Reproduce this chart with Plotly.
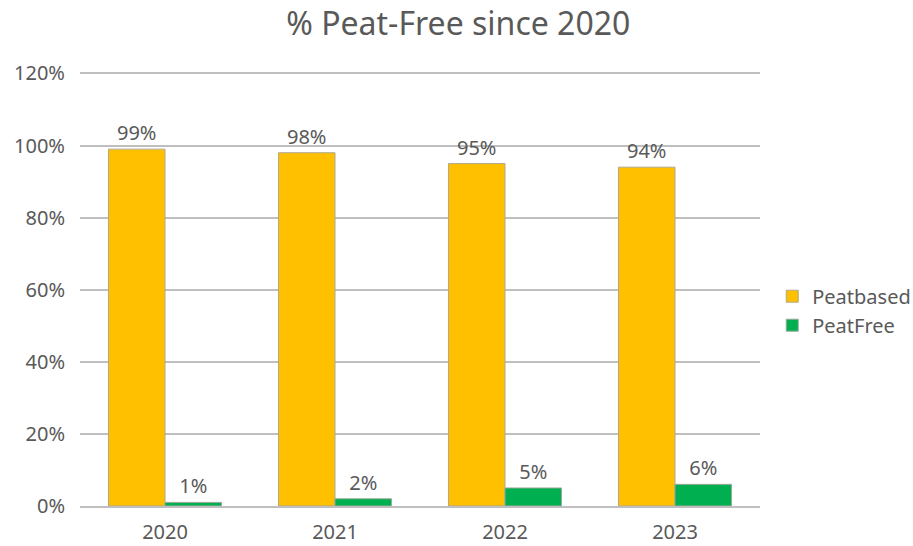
import plotly.graph_objects as go

years = ["2020", "2021", "2022", "2023"]
peatbased = [99, 98, 95, 94]
peatfree = [1, 2, 5, 6]
labels_pb = ["99%", "98%", "95%", "94%"]
labels_pf = ["1%", "2%", "5%", "6%"]
y_ticks = [0, 20, 40, 60, 80, 100, 120]
y_ticktext = ["0%", "20%", "40%", "60%", "80%", "100%", "120%"]

FONT = "Noto Sans"
GREY = "#595959"
FS = 20

fig = go.Figure()
fig.add_trace(go.Bar(
    x=years, y=peatbased, name="Peatbased",
    marker=dict(color="#FFC000", line=dict(color="#b0a890", width=1)),
    text=labels_pb, textposition="outside",
    textfont=dict(family=FONT, size=FS, color=GREY),
    cliponaxis=False,
))
fig.add_trace(go.Bar(
    x=years, y=peatfree, name="PeatFree",
    marker=dict(color="#00B050", line=dict(color="#9aa89a", width=1)),
    text=labels_pf, textposition="outside",
    textfont=dict(family=FONT, size=FS, color=GREY),
    cliponaxis=False,
))

fig.update_layout(
    width=913, height=546,
    margin=dict(l=80, r=153, t=72, b=40, autoexpand=False),
    paper_bgcolor="white", plot_bgcolor="white",
    barmode="group", bargap=0.335, bargroupgap=0,
    title=dict(text="% Peat-Free since 2020", x=0.502, xanchor="center",
               y=0.956, yanchor="middle",
               font=dict(family=FONT, size=32, color=GREY)),
    font=dict(family=FONT, size=FS, color=GREY),
    legend=dict(x=1.018, xanchor="left", y=0.45, yanchor="middle",
                font=dict(family=FONT, size=FS, color=GREY),
                itemwidth=30, tracegroupgap=0),
    showlegend=True,
)
fig.update_yaxes(range=[0, 120.4], tickmode="array", tickvals=y_ticks,
                 ticktext=y_ticktext, automargin=False,
                 showgrid=True, gridcolor="#bfbfbf", gridwidth=2,
                 zeroline=False, showline=False, ticks="",
                 ticklabelstandoff=14,
                 tickfont=dict(family=FONT, size=FS, color=GREY))
fig.update_xaxes(showline=True, linecolor="#bfbfbf", linewidth=2,
                 ticks="", ticklabelstandoff=7, automargin=False,
                 tickfont=dict(family=FONT, size=FS, color=GREY))

fig.write_html("out.html",
               config={"displayModeBar": False},
               post_script="document.body.style.margin='0';document.body.style.overflow='hidden';")
